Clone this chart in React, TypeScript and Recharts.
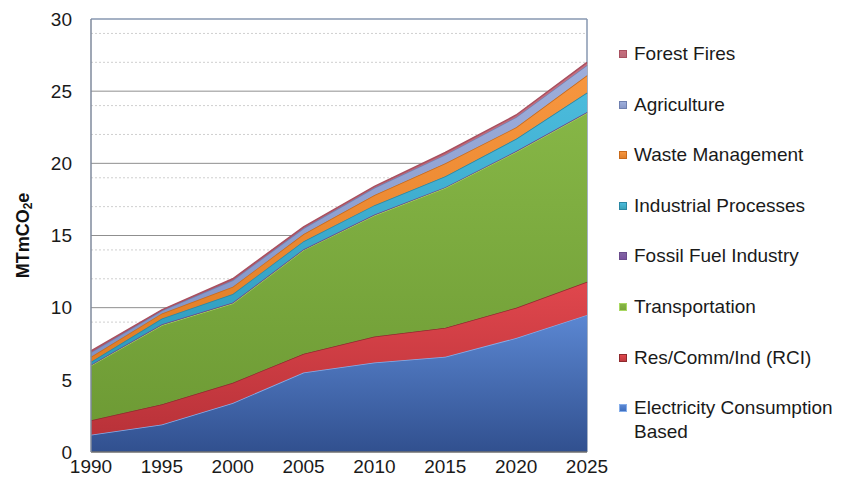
import { AreaChart, Area, XAxis, YAxis, CartesianGrid, Legend } from 'recharts'

const years = [1990, 1995, 2000, 2005, 2010, 2015, 2020, 2025]
const electricity = [1.2, 1.9, 3.4, 5.5, 6.2, 6.6, 7.9, 9.5]
const rci = [1.0, 1.4, 1.4, 1.3, 1.8, 2.0, 2.1, 2.3]
const transportation = [3.8, 5.5, 5.5, 7.2, 8.4, 9.7, 10.8, 11.7]
const fossilFuel = [0.05, 0.05, 0.05, 0.05, 0.05, 0.05, 0.05, 0.05]
const industrial = [0.2, 0.4, 0.6, 0.55, 0.65, 0.75, 0.85, 1.35]
const waste = [0.35, 0.35, 0.5, 0.5, 0.7, 0.9, 0.8, 1.2]
const agriculture = [0.3, 0.2, 0.45, 0.4, 0.5, 0.6, 0.7, 0.7]
const forestFires = [0.1, 0.05, 0.1, 0.1, 0.1, 0.15, 0.15, 0.2]

const yTicks = [0, 5, 10, 15, 20, 25, 30]
const majorGrid = [5, 10, 15, 20, 25]
const minorGrid = [1, 2, 3, 4, 6, 7, 8, 9, 11, 12, 13, 14, 16, 17, 18, 19, 21, 22, 23, 24, 26, 27, 28, 29]

// bottom to top
const series = [
  { key: 'elec', name: 'Electricity Consumption Based', vals: electricity, top: '#5B87D2', bottom: '#31508F', stroke: '#86AEEA', marker: '#3E6FC0' },
  { key: 'rci', name: 'Res/Comm/Ind (RCI)', vals: rci, top: '#E0474D', bottom: '#B93239', stroke: '#8E2A2E', marker: '#C0393F' },
  { key: 'trans', name: 'Transportation', vals: transportation, top: '#86B646', bottom: '#6E9B35', stroke: '#A9D862', marker: '#7BA63B' },
  { key: 'fossil', name: 'Fossil Fuel Industry', vals: fossilFuel, top: '#8064A2', bottom: '#6A4C8C', stroke: '#6A4C8C', marker: '#7A52A0' },
  { key: 'ind', name: 'Industrial Processes', vals: industrial, top: '#4BBBDC', bottom: '#2E9BBD', stroke: '#2A87A3', marker: '#3AA3B8' },
  { key: 'waste', name: 'Waste Management', vals: waste, top: '#F7963F', bottom: '#E07D25', stroke: '#C96A1B', marker: '#E07F2A' },
  { key: 'agri', name: 'Agriculture', vals: agriculture, top: '#9DAEDB', bottom: '#8193C6', stroke: '#6F80B0', marker: '#8898C8' },
  { key: 'fire', name: 'Forest Fires', vals: forestFires, top: '#C86E7E', bottom: '#B05A6A', stroke: '#A85060', marker: '#B86A78' },
]

const data = years.map((year, i) => {
  const row: Record<string, number> = { year }
  series.forEach(s => { row[s.key] = s.vals[i] })
  return row
})

const font = '"Liberation Sans", Arial, sans-serif'

function YTitle(props: any) {
  const vb = props.viewBox || { y: 11, height: 433 }
  const cx = 15
  const cy = vb.y + vb.height / 2
  return (
    <text
      x={cx}
      y={cy}
      transform={`rotate(-90, ${cx}, ${cy})`}
      textAnchor="middle"
      dominantBaseline="central"
      fontFamily={font}
      fontWeight="bold"
      fontSize={18}
      fill="#111"
    >
      MTmCO<tspan fontSize={12} dy={5}>2</tspan><tspan dy={-5}>e</tspan>
    </text>
  )
}

function LegendBox() {
  return (
    <div style={{ fontFamily: font, fontSize: 19, color: '#1a1a1a' }}>
      {[...series].reverse().map(s => (
        <div key={s.key} style={{ height: 50.6, display: 'flex', alignItems: 'flex-start' }}>
          <span
            style={{
              display: 'inline-block',
              width: 8,
              height: 8,
              marginTop: 8,
              marginRight: 7,
              flexShrink: 0,
              background: `linear-gradient(${s.top}, ${s.marker})`,
              border: `1px solid ${s.stroke}`,
              boxSizing: 'border-box',
            }}
          />
          <span style={{ lineHeight: '24px', maxWidth: 215 }}>{s.name}</span>
        </div>
      ))}
    </div>
  )
}

export default function App() {
  return (
    <AreaChart
      width={846}
      height={487}
      data={data}
      margin={{ top: 11, right: 32, bottom: 0, left: 0 }}
    >
      <defs>
        {series.map(s => (
          <linearGradient key={s.key} id={`g-${s.key}`} x1="0" y1="0" x2="0" y2="1">
            <stop offset="0%" stopColor={s.top} />
            <stop offset="100%" stopColor={s.bottom} />
          </linearGradient>
        ))}
      </defs>
      <CartesianGrid horizontalValues={minorGrid} vertical={false} stroke="#cfcfcf" strokeDasharray="2 2" />
      <CartesianGrid horizontalValues={majorGrid} vertical={false} stroke="#8f8f8f" />
      <CartesianGrid horizontalValues={[30]} verticalPoints={[579]} stroke="#8797B0" strokeWidth={1.5} />
      <XAxis
        dataKey="year"
        tickLine={false}
        tickSize={0}
        tickMargin={8}
        interval={0}
        height={43}
        axisLine={{ stroke: '#6f6f6f', strokeWidth: 1.5 }}
        tick={{ fill: '#1a1a1a', fontSize: 19, fontFamily: font }}
      />
      <YAxis
        domain={[0, 30]}
        ticks={yTicks}
        width={83}
        tickLine={false}
        tickSize={0}
        tickMargin={19}
        axisLine={{ stroke: '#7f8a9c', strokeWidth: 1.5 }}
        tick={{ fill: '#1a1a1a', fontSize: 19, fontFamily: font }}
        label={{ content: YTitle }}
      />
      <Legend
        layout="vertical"
        align="right"
        verticalAlign="top"
        content={LegendBox}
        wrapperStyle={{ left: 611, top: 34, right: 'auto', width: 235 }}
      />
      {series.map(s => (
        <Area
          key={s.key}
          dataKey={s.key}
          name={s.name}
          stackId="1"
          type="linear"
          fill={`url(#g-${s.key})`}
          fillOpacity={1}
          stroke={s.stroke}
          strokeWidth={1.5}
          isAnimationActive={false}
        />
      ))}
    </AreaChart>
  )
}
